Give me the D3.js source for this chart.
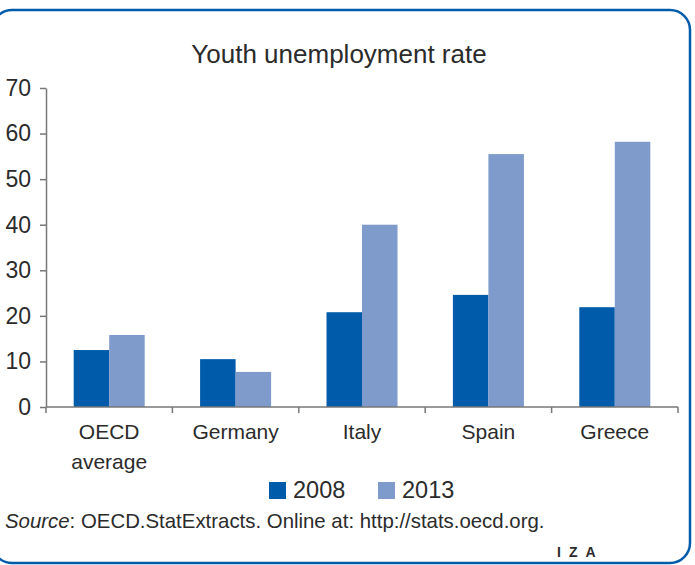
<!DOCTYPE html>
<html>
<head>
<meta charset="utf-8">
<script src="https://cdn.jsdelivr.net/npm/d3@7"></script>
<style>
html,body{margin:0;padding:0;background:#fff;}
svg{display:block;}
text{font-family:"Liberation Sans","Arial",sans-serif;fill:#2b2b2b;}
</style>
</head>
<body>
<svg id="chart" width="695" height="565"></svg>
<script>
const categories = ["OECD average", "Germany", "Italy", "Spain", "Greece"];
const years = ["2008", "2013"];
const values2008 = [12.5, 10.5, 20.8, 24.6, 21.9];
const values2013 = [15.8, 7.7, 40.0, 55.5, 58.2];
const yTicks = [0, 10, 20, 30, 40, 50, 60, 70];
const colors = ["#005BAA", "#7F9BCB"];

const svg = d3.select("#chart");

// frame
svg.append("rect")
  .attr("x", -8).attr("y", 10)
  .attr("width", 698).attr("height", 553)
  .attr("rx", 20).attr("ry", 20)
  .attr("fill", "#fff")
  .attr("stroke", "#005BAA").attr("stroke-width", 2.5);

const plotLeft = 46, plotRight = 678, plotTop = 88, plotBottom = 407;

const x0 = d3.scaleBand().domain(categories).range([plotLeft, plotRight]).padding(0);
const x1 = d3.scaleBand().domain(years).range([0, x0.bandwidth()]).paddingInner(0).paddingOuter(0.78);
const y = d3.scaleLinear().domain([0, 70]).range([plotBottom, plotTop]);

// title
svg.append("text")
  .attr("x", 339).attr("y", 63)
  .attr("text-anchor", "middle")
  .style("font-size", "26px")
  .text("Youth unemployment rate");

// bars
const data = categories.map((c, i) => ({cat: c, vals: [values2008[i], values2013[i]]}));
const g = svg.append("g");
data.forEach(d => {
  years.forEach((yr, j) => {
    g.append("rect")
      .attr("x", x0(d.cat) + x1(yr))
      .attr("y", y(d.vals[j]))
      .attr("width", x1.bandwidth())
      .attr("height", y(0) - y(d.vals[j]))
      .attr("fill", colors[j]);
  });
});

// y axis
const yAxis = svg.append("g")
  .attr("transform", `translate(${plotLeft},0)`)
  .call(d3.axisLeft(y).tickValues(yTicks).tickSize(6).tickPadding(9).tickSizeOuter(0));
yAxis.select(".domain").attr("stroke", "#777").attr("stroke-width", 1.5);
yAxis.selectAll(".tick line").attr("stroke", "#777").attr("stroke-width", 1.5);
yAxis.selectAll(".tick text")
  .style("font-size", "23px")
  .style("font-family", "'Liberation Sans',Arial,sans-serif")
  .attr("fill", "#2b2b2b");

// x axis
const xAxis = svg.append("g").attr("transform", `translate(0,${plotBottom})`);
xAxis.append("line")
  .attr("x1", plotLeft).attr("x2", plotRight)
  .attr("y1", 0).attr("y2", 0)
  .attr("stroke", "#777").attr("stroke-width", 1.5);
const boundaries = categories.map(c => x0(c)).concat([x0(categories[categories.length - 1]) + x0.bandwidth()]);
xAxis.selectAll("line.bt").data(boundaries).enter().append("line")
  .attr("class", "bt")
  .attr("x1", d => d).attr("x2", d => d)
  .attr("y1", 0).attr("y2", 6)
  .attr("stroke", "#777").attr("stroke-width", 1.5);

categories.forEach(c => {
  const lines = c === "OECD average" ? ["OECD", "average"] : [c];
  lines.forEach((ln, k) => {
    svg.append("text")
      .attr("x", x0(c) + x0.bandwidth() / 2)
      .attr("y", 439 + k * 30)
      .attr("text-anchor", "middle")
      .style("font-size", "21px")
      .text(ln);
  });
});

// legend
const legendX = [269, 378];
years.forEach((yr, j) => {
  svg.append("rect")
    .attr("x", legendX[j]).attr("y", 482)
    .attr("width", 17).attr("height", 17)
    .attr("fill", colors[j]);
  svg.append("text")
    .attr("x", legendX[j] + 24).attr("y", 498)
    .style("font-size", "23.5px")
    .text(yr);
});

// source
const src = svg.append("text").attr("x", 5).attr("y", 528).style("font-size", "20.4px");
src.append("tspan").style("font-style", "italic").text("Source");
src.append("tspan").text(": OECD.StatExtracts. Online at: http://stats.oecd.org.");

// IZA logo
svg.append("text")
  .attr("x", 557).attr("y", 557)
  .style("font-size", "14px")
  .style("font-weight", "bold")
  .style("letter-spacing", "8px")
  .style("font-family", "'Liberation Sans',sans-serif")
  .attr("fill", "#2a6fbd")
  .text("IZA");
</script>
</body>
</html>
